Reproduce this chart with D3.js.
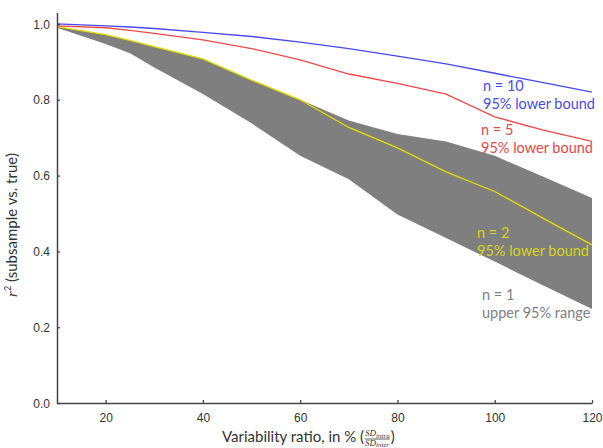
<!DOCTYPE html>
<html>
<head>
<meta charset="utf-8">
<script src="https://cdn.jsdelivr.net/npm/d3@7"></script>
<style>
  body { margin: 0; background: #fff; }
</style>
</head>
<body>
<div id="chart"></div>
<script>
// Variability ratio (x) and r^2 values
var ratio = [10, 20, 25, 30, 40, 50, 60, 70, 80, 90, 100, 110, 120];
var n10Lower = [1.0, 0.995, 0.992, 0.988, 0.978, 0.967, 0.952, 0.935, 0.915, 0.895, 0.87, 0.845, 0.82];
var n5Lower = [0.995, 0.99, 0.983, 0.975, 0.958, 0.935, 0.905, 0.868, 0.843, 0.815, 0.755, 0.72, 0.69];
var n2Lower = [0.993, 0.972, 0.957, 0.94, 0.908, 0.852, 0.80, 0.727, 0.673, 0.61, 0.558, 0.487, 0.417];
var n1Upper = [0.993, 0.972, 0.957, 0.94, 0.908, 0.852, 0.80, 0.745, 0.71, 0.69, 0.652, 0.597, 0.541];
var n1Lower = [0.99, 0.947, 0.923, 0.885, 0.815, 0.738, 0.652, 0.59, 0.497, 0.435, 0.373, 0.31, 0.248];
var xTicks = [20, 40, 60, 80, 100, 120];
var yTicks = [0, 0.2, 0.4, 0.6, 0.8, 1.0];

var width = 603, height = 448;

var svg = d3.select('#chart')
  .append('svg')
  .attr('width', width)
  .attr('height', height);

var x = d3.scaleLinear().domain([10, 120]).range([57, 592]);
var y = d3.scaleLinear().domain([0, 1.03]).range([403, 12.6]);

var rows = ratio.map(function(r, i) {
  return { r: r, n10: n10Lower[i], n5: n5Lower[i], n2: n2Lower[i], hi: n1Upper[i], lo: n1Lower[i] };
});

// grey band (n = 1, upper 95% range)
var area = d3.area()
  .x(function(d) { return x(d.r); })
  .y0(function(d) { return y(d.lo); })
  .y1(function(d) { return y(d.hi); });

svg.append('path')
  .datum(rows)
  .attr('d', area)
  .attr('fill', '#7f7f7f');

function drawLine(key, color) {
  svg.append('path')
    .datum(rows)
    .attr('d', d3.line()
      .x(function(d) { return x(d.r); })
      .y(function(d) { return y(d[key]); }))
    .attr('fill', 'none')
    .attr('stroke', color)
    .attr('stroke-width', 1.3);
}
drawLine('n2', '#e0e000');
drawLine('n5', '#f04848');
drawLine('n10', '#4848f0');

// axes
var xAxis = svg.append('g')
  .attr('transform', 'translate(0,' + y(0) + ')')
  .call(d3.axisBottom(x).tickValues(xTicks).tickSizeInner(-3).tickSizeOuter(0).tickPadding(10));
var yAxis = svg.append('g')
  .attr('transform', 'translate(' + x(10) + ',0)')
  .call(d3.axisLeft(y).tickValues(yTicks).tickFormat(d3.format('.1f')).tickSizeInner(-3).tickSizeOuter(0).tickPadding(7));

[xAxis, yAxis].forEach(function(g) {
  g.select('.domain').attr('stroke', '#444').attr('stroke-width', 1.5);
  g.selectAll('.tick line').attr('stroke', '#444').attr('stroke-width', 1.3);
  g.selectAll('.tick text')
    .style('font-family', 'Liberation Sans, Arial, sans-serif')
    .style('font-size', '12px')
    .attr('fill', '#333');
});
yAxis.selectAll('.tick text').attr('dy', '0.35em');

// series labels
var labels = [
  { t1: 'n = 10', t2: '95% lower bound', x: 483, y: 86, c: '#4a4ae6' },
  { t1: 'n = 5', t2: '95% lower bound', x: 481, y: 130, c: '#e84646' },
  { t1: 'n = 2', t2: '95% lower bound', x: 477, y: 233, c: '#d4d41a' },
  { t1: 'n = 1', t2: 'upper 95% range', x: 482, y: 295, c: '#7f7f7f' }
];
labels.forEach(function(l) {
  var t = svg.append('text')
    .attr('x', l.x)
    .attr('y', l.y)
    .attr('fill', l.c)
    .style('font-family', 'Lato, sans-serif')
    .style('font-size', '14.5px');
  t.append('tspan').attr('x', l.x).attr('dy', '0.35em').text(l.t1);
  t.append('tspan').attr('x', l.x).attr('dy', '1.25em').text(l.t2);
});

// y axis title
var yt = svg.append('text')
  .attr('transform', 'translate(17,225) rotate(-90)')
  .attr('text-anchor', 'middle')
  .attr('fill', '#333')
  .style('font-family', 'Lato, sans-serif')
  .style('font-size', '15px');
yt.append('tspan').style('font-style', 'italic').style('font-family', 'Liberation Serif, serif').text('r');
yt.append('tspan').attr('dy', -6).style('font-size', '9px').text('2');
yt.append('tspan').attr('dy', 6).text(' (subsample vs. true)');

// x axis title with fraction
var xt = svg.append('text')
  .attr('x', 222)
  .attr('y', 442)
  .attr('fill', '#333')
  .style('font-family', 'Lato, sans-serif')
  .style('font-size', '15px')
  .text('Variability ratio, in % (');
var fx = 222 + xt.node().getComputedTextLength() + 1;

function frac(txt, yy) {
  var f = svg.append('text')
    .attr('x', fx)
    .attr('y', yy)
    .attr('fill', '#333')
    .style('font-family', 'Liberation Serif, serif')
    .style('font-style', 'italic')
    .style('font-size', '9px');
  f.append('tspan').text('SD');
  f.append('tspan').attr('dy', 1.5).style('font-size', '7px').text(txt);
  return f;
}
var num = frac('intra', 436);
frac('inter', 445.5);
var fw = num.node().getComputedTextLength();
svg.append('line')
  .attr('x1', fx).attr('x2', fx + fw)
  .attr('y1', 439).attr('y2', 439)
  .attr('stroke', '#333').attr('stroke-width', 0.8);
svg.append('text')
  .attr('x', fx + fw + 1)
  .attr('y', 442)
  .attr('fill', '#333')
  .style('font-family', 'Lato, sans-serif')
  .style('font-size', '15px')
  .text(')');
</script>
</body>
</html>
